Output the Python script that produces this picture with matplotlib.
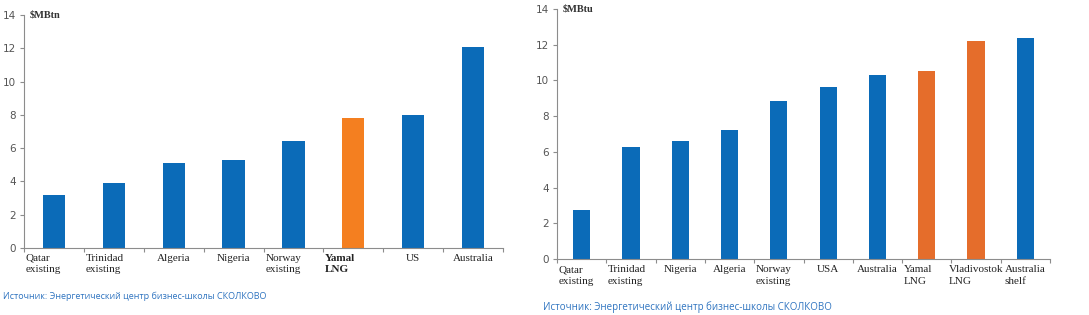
import matplotlib
matplotlib.use("Agg")
import matplotlib.pyplot as plt
import matplotlib.transforms as mtransforms
import numpy as np

# left chart
left_labels = ["Qatar\nexisting", "Trinidad\nexisting", "Algeria", "Nigeria",
               "Norway\nexisting", "Yamal\nLNG", "US", "Australia"]
left_values = [3.2, 3.9, 5.1, 5.3, 6.4, 7.8, 8.0, 12.1]
left_orange = ["Yamal\nLNG"]

# right chart
right_labels = ["Qatar\nexisting", "Trinidad\nexisting", "Nigeria", "Algeria",
                "Norway\nexisting", "USA", "Australia", "Yamal\nLNG",
                "Vladivostok\nLNG", "Australia\nshelf"]
right_values = [2.75, 6.3, 6.6, 7.2, 8.85, 9.65, 10.3, 10.55, 12.2, 12.4]
right_orange = ["Yamal\nLNG", "Vladivostok\nLNG"]

source = "Источник: Энергетический центр бизнес-школы СКОЛКОВО"

BLUE = "#0b6bb8"
GREY = "#8c8c8c"
SRC = "#2f74c0"


def panel(ax, labels, values, orange_set, orange, width, bold_set, left_set,
          unit_text, spacing):
    n = len(labels)
    x = np.arange(n)
    colors = [orange if l in orange_set else BLUE for l in labels]
    ax.bar(x, values, width=width, color=colors, zorder=2)
    ax.set_xlim(-0.5, n - 0.5)
    ax.set_ylim(0, 14)
    ax.set_yticks(range(0, 15, 2))
    ax.tick_params(axis="y", length=3, color=GREY, labelsize=7.5,
                   labelcolor="#555555", pad=3)
    # small ticks between the categories
    ax.set_xticks(np.arange(-0.5, n, 1.0))
    ax.set_xticklabels([])
    ax.tick_params(axis="x", length=3, color=GREY)
    for s in ["top", "right"]:
        ax.spines[s].set_visible(False)
    for s in ["left", "bottom"]:
        ax.spines[s].set_color(GREY)
        ax.spines[s].set_linewidth(0.8)
    trans = mtransforms.blended_transform_factory(ax.transData, ax.transAxes)
    for i, lab in enumerate(labels):
        if lab in left_set:
            xp, ha = i - 0.47, "left"
        else:
            xp, ha = i, "center"
        ax.text(xp, -0.025, lab, transform=trans, ha=ha, va="top",
                multialignment="left", fontsize=8, family="Liberation Serif",
                color="#222222", linespacing=spacing,
                fontweight="bold" if lab in bold_set else "normal")
    ax.text(0.012, 1.0, unit_text, transform=ax.transAxes, ha="left", va="center",
            fontsize=7.5, family="Liberation Serif", fontweight="bold", color="#333333")


fig = plt.figure(figsize=(10.89, 3.15), dpi=100)

ax1 = fig.add_axes([24 / 1089, 67 / 315, 479 / 1089, 233 / 315])
panel(ax1, left_labels, left_values, left_orange, "#f47f20", 0.37,
      ["Yamal\nLNG"], ["Qatar\nexisting", "Trinidad\nexisting", "Norway\nexisting", "Yamal\nLNG"],
      r"\$MBtn", 1.25)

ax2 = fig.add_axes([557 / 1089, 56 / 315, 493 / 1089, 250 / 315])
panel(ax2, right_labels, right_values, right_orange, "#e56d2b", 0.35,
      [], ["Qatar\nexisting", "Trinidad\nexisting", "Norway\nexisting", "Yamal\nLNG"],
      r"\$MBtu", 1.45)

fig.text(3 / 1089, 1 - 296 / 315, source, ha="left", va="center",
         fontsize=6.5, family="Open Sans", color=SRC)
fig.text(543 / 1089, 1 - 307 / 315, source, ha="left", va="center",
         fontsize=7.0, family="Open Sans", color=SRC)

fig.savefig("out.png", dpi=100, facecolor="white")
